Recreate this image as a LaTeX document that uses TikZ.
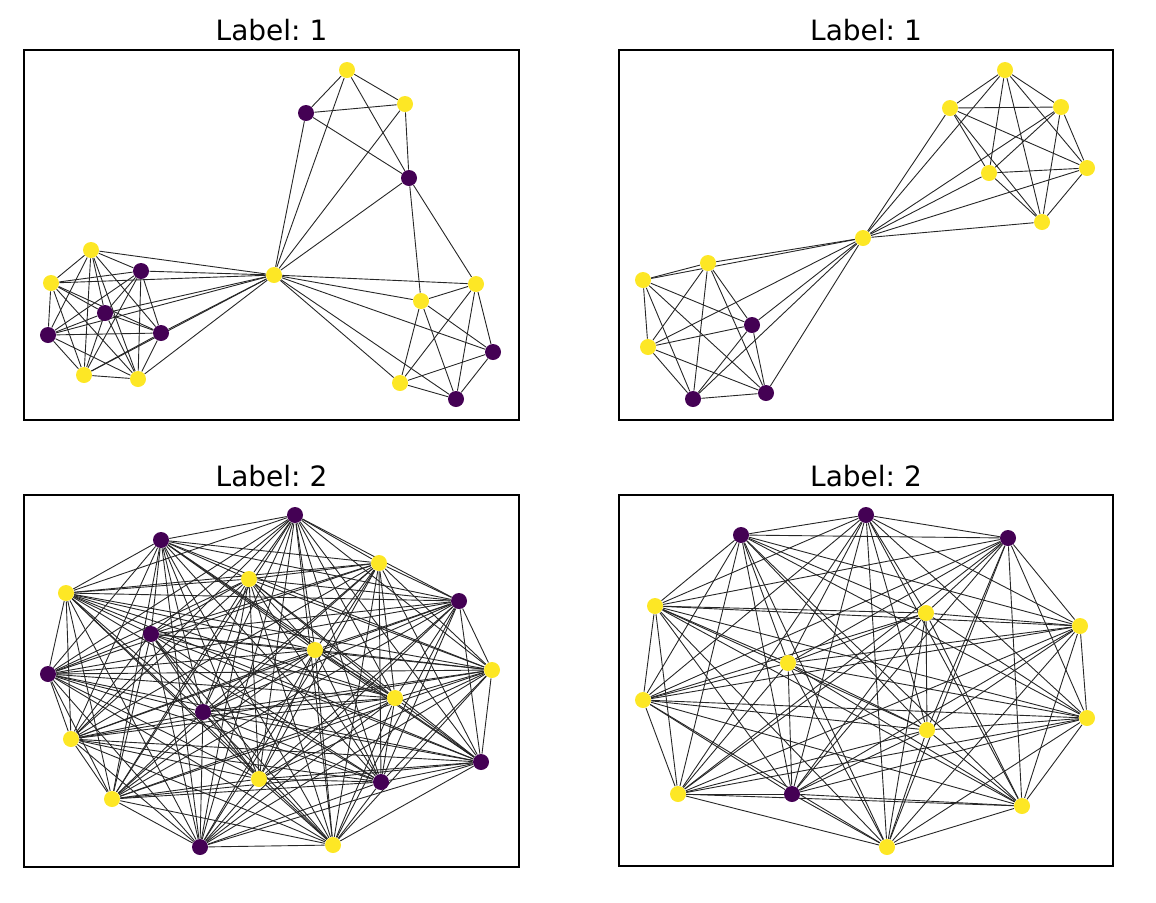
\documentclass[tikz,border=0pt]{standalone}
\usepackage{fontspec}
\setmainfont{DejaVu Sans}
\usetikzlibrary{backgrounds}
\definecolor{vdark}{HTML}{440154}
\definecolor{vyel}{HTML}{FDE725}
\frenchspacing
\begin{document}
\begin{tikzpicture}[x=0.5pt,y=-0.5pt,
  dk/.style={circle,fill=vdark,inner sep=0pt,minimum size=8pt},
  yl/.style={circle,fill=vyel,inner sep=0pt,minimum size=8pt},
  edge/.style={draw=black!85,line width=0.45pt},
  frame/.style={draw=black,line width=0.6pt},
  ttl/.style={font=\fontsize{14}{16}\selectfont,anchor=base,inner sep=0pt}]
\useasboundingbox (0,0) rectangle (1156,902);
% frames and titles
\draw[frame] (24,50) rectangle (519,420);
\draw[frame] (619,50) rectangle (1113,420);
\draw[frame] (24,495) rectangle (519,867);
\draw[frame] (619,495) rectangle (1113,866);
\node[ttl] (t1) at (271.5,40) {Label: 1};
\node[ttl] (t2) at (866,40) {Label: 1};
\node[ttl] (t3) at (271.5,486) {Label: 2};
\node[ttl] (t4) at (866,486) {Label: 2};
% ---------- top left ----------
\node[yl] (a1) at (91,250) {};
\node[yl] (a2) at (51,283) {};
\node[dk] (a3) at (141,271) {};
\node[dk] (a4) at (105,313) {};
\node[dk] (a5) at (48,335) {};
\node[dk] (a6) at (161,333) {};
\node[yl] (a7) at (84,375) {};
\node[yl] (a8) at (138,379) {};
\node[yl] (h1) at (274,275) {};
\node[yl] (b1) at (347,70) {};
\node[dk] (b2) at (306,113) {};
\node[yl] (b3) at (405,104) {};
\node[dk] (b4) at (409,178) {};
\node[yl] (c1) at (476,284) {};
\node[yl] (c2) at (421,301) {};
\node[dk] (c3) at (493,352) {};
\node[yl] (c4) at (400,383) {};
\node[dk] (c5) at (456,399) {};
% ---------- top right ----------
\node[yl] (d1) at (1005,70) {};
\node[yl] (d2) at (950,108) {};
\node[yl] (d3) at (1061,107) {};
\node[yl] (d4) at (989,173) {};
\node[yl] (d5) at (1087,168) {};
\node[yl] (d6) at (1042,222) {};
\node[yl] (h2) at (863,238) {};
\node[yl] (e1) at (708,263) {};
\node[yl] (e2) at (643,280) {};
\node[dk] (e3) at (752,325) {};
\node[yl] (e4) at (648,347) {};
\node[dk] (e5) at (693,399) {};
\node[dk] (e6) at (766,393) {};
% ---------- bottom left ----------
\node[dk] (f1) at (295,515) {};
\node[dk] (f2) at (161,540) {};
\node[yl] (f3) at (249,579) {};
\node[yl] (f4) at (379,563) {};
\node[yl] (f5) at (66,593) {};
\node[dk] (f6) at (459,601) {};
\node[dk] (f7) at (151,634) {};
\node[yl] (f8) at (315,650) {};
\node[dk] (f9) at (48,674) {};
\node[yl] (f10) at (492,670) {};
\node[yl] (f11) at (395,698) {};
\node[dk] (f12) at (203,712) {};
\node[yl] (f13) at (71,739) {};
\node[dk] (f14) at (481,762) {};
\node[yl] (f15) at (259,779) {};
\node[dk] (f16) at (381,782) {};
\node[yl] (f17) at (112,799) {};
\node[dk] (f18) at (200,847) {};
\node[yl] (f19) at (333,845) {};
% ---------- bottom right ----------
\node[dk] (g1) at (866,515) {};
\node[dk] (g2) at (741,535) {};
\node[dk] (g3) at (1008,538) {};
\node[yl] (g4) at (655,606) {};
\node[yl] (g5) at (926,613) {};
\node[yl] (g6) at (1080,626) {};
\node[yl] (g7) at (788,663) {};
\node[yl] (g8) at (643,700) {};
\node[yl] (g9) at (1087,718) {};
\node[yl] (g10) at (927,730) {};
\node[yl] (g11) at (678,794) {};
\node[dk] (g12) at (792,794) {};
\node[yl] (g13) at (1022,806) {};
\node[yl] (g14) at (887,847) {};
\begin{pgfonlayer}{background}
% top left edges
\foreach \i in {1,...,8}{\foreach \j in {\i,...,8}{\ifnum\i<\j \draw[edge] (a\i) -- (a\j);\fi}}
\foreach \i in {1,...,5}{\foreach \j in {\i,...,5}{\ifnum\i<\j \draw[edge] (c\i) -- (c\j);\fi}}
\foreach \i in {1,...,4}{\foreach \j in {\i,...,4}{\ifnum\i<\j \draw[edge] (b\i) -- (b\j);\fi}}
\foreach \n in {a1,a2,a3,a4,a5,a6,a7,a8,b1,b2,b3,b4,c1,c2,c3,c4,c5} \draw[edge] (h1) -- (\n);
\draw[edge] (b4) -- (c1);
\draw[edge] (b4) -- (c2);
% top right edges
\foreach \i in {1,...,6}{\foreach \j in {\i,...,6}{\ifnum\i<\j \draw[edge] (d\i) -- (d\j);\fi}}
\foreach \i in {1,...,6}{\foreach \j in {\i,...,6}{\ifnum\i<\j \draw[edge] (e\i) -- (e\j);\fi}}
\foreach \n in {d1,d2,d3,d4,d5,d6,e1,e2,e3,e4,e5,e6} \draw[edge] (h2) -- (\n);
% bottom left edges
\foreach \i in {1,...,19}{\foreach \j in {\i,...,19}{\ifnum\i<\j \draw[edge] (f\i) -- (f\j);\fi}}
% bottom right edges
\foreach \i in {1,...,14}{\foreach \j in {\i,...,14}{\ifnum\i<\j \draw[edge] (g\i) -- (g\j);\fi}}
\end{pgfonlayer}
\end{tikzpicture}
\end{document}
